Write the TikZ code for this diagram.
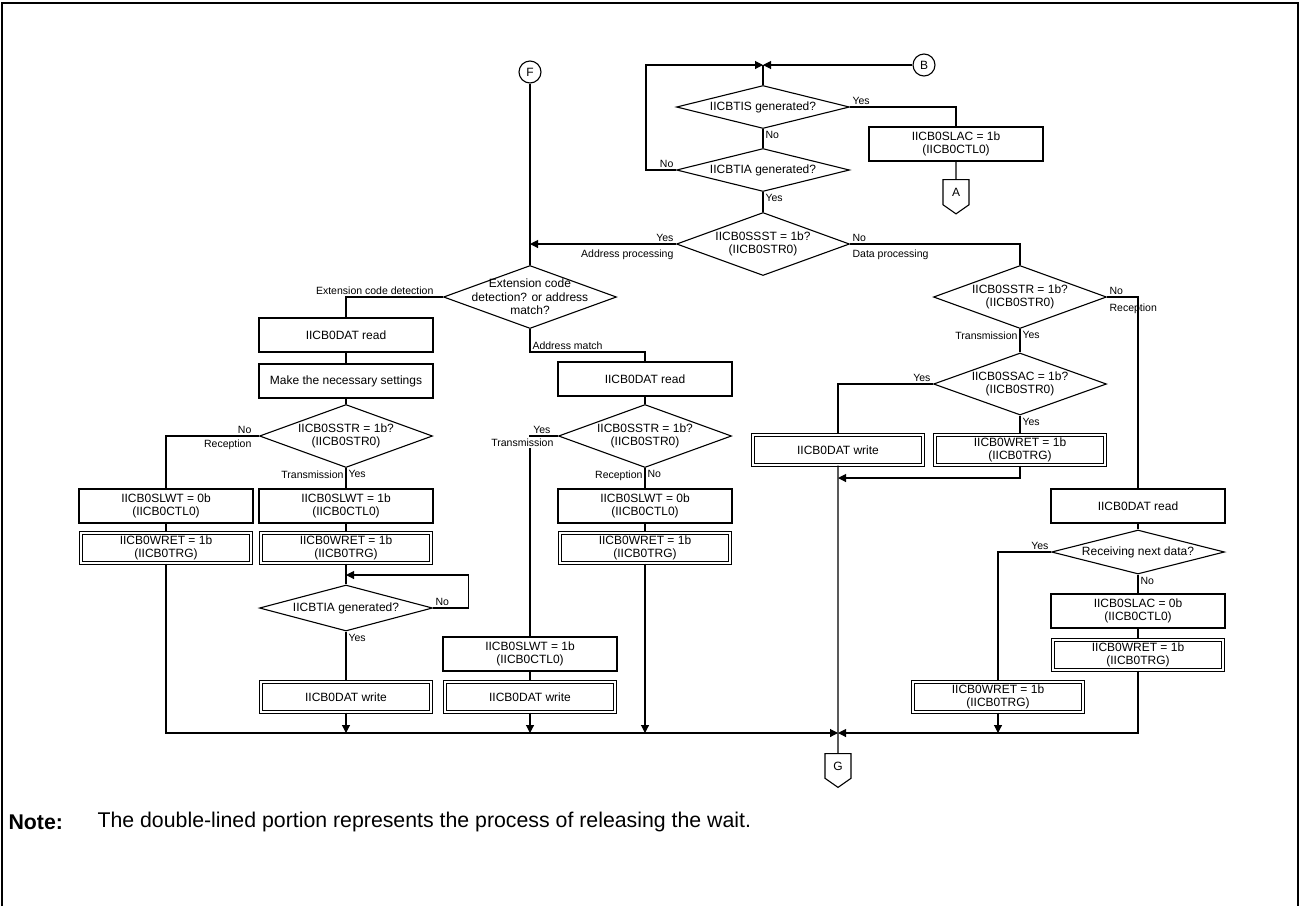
\documentclass[tikz,border=0pt]{standalone}
\usepackage{fontspec}
\setmainfont{Liberation Sans}
\usetikzlibrary{arrows.meta,positioning,shapes.geometric,shapes.symbols}
\newcommand{\boxfont}{\fontsize{12}{13.5}\selectfont}
\newcommand{\dboxfont}{\fontsize{12}{12.8}\selectfont}
\newcommand{\lblfont}{\fontsize{10.5}{12}\selectfont}
\newcommand{\notefont}{\fontsize{21.3}{24}\selectfont}

\begin{document}
\begin{tikzpicture}[x=1pt,y=-1pt,line width=1.1pt,
  box/.style={draw,rectangle,align=center,minimum width=174pt,minimum height=34pt,inner sep=1pt,font=\boxfont},
  dbox/.style={box,double,double distance=2.4pt,minimum width=170pt,minimum height=30pt,font=\dboxfont},
  dia/.style={draw,diamond,minimum width=173pt,minimum height=63pt,inner sep=0pt,label={[align=center,font=\boxfont]center:#1}},
  conn/.style={draw,circle,minimum size=22pt,inner sep=0pt,font=\boxfont},
  offpage/.style={draw,signal,signal to=south,signal pointer angle=110,minimum width=26pt,minimum height=28pt,inner sep=0pt,font=\boxfont},
  lbl/.style={inner sep=2pt,font=\lblfont},
  arr/.style={-{Triangle[length=8pt,width=8pt]}}]
\useasboundingbox (0,0) rectangle (1301,906);
\draw[line width=2.5pt] (2,906) -- (2,3) -- (1298,3) -- (1298,906);

% top part
\node[conn] (F) at (530,72) {F};
\node[conn] (B) at (924,65) {B};
\coordinate (mtop) at (763,65);
\node[dia={IICBTIS generated?},minimum height=43pt] (tis) at (763,107) {};
\node[dia={IICBTIA generated?},minimum height=43pt] (tia) at (763,170) {};
\node[box] (slac1) at (956,144) {IICB0SLAC = 1b\\(IICB0CTL0)};
\node[offpage,anchor=north] (A) at (956,179) {A};
\node[dia={IICB0SSST = 1b?\\(IICB0STR0)}] (ssst) at (763,244) {};
\node[dia={Extension code\\detection? or address\\match?}] (ext) at (530,297) {};

% address processing, extension code
\node[box] (rd1) at (346,335) {IICB0DAT read};
\node[box] (set) at (346,381) {Make the necessary settings};
\node[dia={IICB0SSTR = 1b?\\(IICB0STR0)}] (str1) at (346,436) {};
\node[box] (slwt0a) at (166,506) {IICB0SLWT = 0b\\(IICB0CTL0)};
\node[dbox] (wret1) at (166,548) {IICB0WRET = 1b\\(IICB0TRG)};
\node[box] (slwt1a) at (346,506) {IICB0SLWT = 1b\\(IICB0CTL0)};
\node[dbox] (wret2) at (346,548) {IICB0WRET = 1b\\(IICB0TRG)};
\coordinate (mloop) at (346,575);
\node[dia={IICBTIA generated?},minimum height=46pt] (tia2) at (346,608) {};
\node[dbox] (wr1) at (346,697) {IICB0DAT write};

% address match
\coordinate (am) at (530,352);
\node[box] (rd2) at (645,379) {IICB0DAT read};
\node[dia={IICB0SSTR = 1b?\\(IICB0STR0)}] (str2) at (645,436) {};
\node[box] (slwt0b) at (645,506) {IICB0SLWT = 0b\\(IICB0CTL0)};
\node[dbox] (wret3) at (645,548) {IICB0WRET = 1b\\(IICB0TRG)};
\node[box] (slwt1b) at (530,654) {IICB0SLWT = 1b\\(IICB0CTL0)};
\node[dbox] (wr2) at (530,697) {IICB0DAT write};

% data processing
\node[dia={IICB0SSTR = 1b?\\(IICB0STR0)}] (str3) at (1020,297) {};
\node[dia={IICB0SSAC = 1b?\\(IICB0STR0)},minimum height=62pt] (ssac) at (1020,384) {};
\node[dbox] (wr3) at (838,450) {IICB0DAT write};
\node[dbox] (wret4) at (1020,450) {IICB0WRET = 1b\\(IICB0TRG)};
\coordinate (jr) at (838,478);
\node[box] (rd3) at (1138,506) {IICB0DAT read};
\node[dia={Receiving next data?},minimum height=44pt] (rnd) at (1138,552) {};
\node[box] (slac0) at (1138,611) {IICB0SLAC = 0b\\(IICB0CTL0)};
\node[dbox] (wret5) at (1138,655) {IICB0WRET = 1b\\(IICB0TRG)};
\node[dbox] (wret6) at (998,697) {IICB0WRET = 1b\\(IICB0TRG)};
\coordinate (jn) at (838,733);
\node[offpage,anchor=north] (G) at (838,753) {G};

% connectors
\draw[arr] (B) -- (mtop);
\draw[arr] (tia.west) -- ++(-30,0) |- (mtop);
\draw (mtop) -- (tis);
\draw (tis) -- (tia);
\draw (tia) -- (ssst);
\draw (tis.east) -| (slac1);
\draw (slac1) -- (A);
\draw (F) -- (ext);
\draw[arr] (ssst.west) -- (ssst.west -| F);
\draw (ssst.east) -| (str3);
\draw (ext.west) -| (rd1);
\draw (rd1) -- (set);
\draw (set) -- (str1);
\draw (str1.west) -| (slwt0a);
\draw (slwt0a) -- (wret1);
\draw (str1) -- (slwt1a);
\draw (slwt1a) -- (wret2);
\draw (wret2) -- (tia2);
\draw[arr] (tia2.east) -- ++(35,0) |- (mloop);
\draw (tia2) -- (wr1);
\draw (ext) -- (am) -| (rd2);
\draw (rd2) -- (str2);
\draw (str2.west) -| (slwt1b);
\draw (slwt1b) -- (wr2);
\draw (str2) -- (slwt0b);
\draw (slwt0b) -- (wret3);
\draw (str3) -- (ssac);
\draw (str3.east) -| (rd3);
\draw (ssac.west) -| (wr3);
\draw (ssac) -- (wret4);
\draw[arr] (wret4) |- (jr);
\draw (rd3) -- (rnd);
\draw (rnd) -- (slac0);
\draw (slac0) -- (wret5);
\draw (rnd.west) -| (wret6);
\draw (wr3) -- (G);
\draw[arr] (wret1) |- (jn);
\draw[arr] (wr1) -- (wr1 |- jn);
\draw[arr] (wr2) -- (wr2 |- jn);
\draw[arr] (wret3) -- (wret3 |- jn);
\draw[arr] (wret6) -- (wret6 |- jn);
\draw[arr] (wret5) |- (jn);

% branch labels
\node[lbl,anchor=south west] at (tis.east) {Yes};
\node[lbl,anchor=north west] at (tis.south) {No};
\node[lbl,anchor=south east] at (tia.west) {No};
\node[lbl,anchor=north west] at (tia.south) {Yes};
\node[lbl,anchor=south east] at (ssst.west) {Yes};
\node[lbl,anchor=north east,yshift=-3pt] at (ssst.west) {Address processing};
\node[lbl,anchor=south west] at (ssst.east) {No};
\node[lbl,anchor=north west,yshift=-3pt] at (ssst.east) {Data processing};
\node[lbl,anchor=south east,xshift=-7pt] at (ext.west) {Extension code detection};
\node[lbl,anchor=south west] at (am) {Address match};
\node[lbl,anchor=south east,xshift=-5pt] at (str1.west) {No};
\node[lbl,anchor=north east,xshift=-5pt,yshift=-1pt] at (str1.west) {Reception};
\node[lbl,anchor=north east] at (str1.south) {Transmission};
\node[lbl,anchor=north west] at (str1.south) {Yes};
\node[lbl,anchor=south west] at (tia2.east) {No};
\node[lbl,anchor=north west] at (tia2.south) {Yes};
\node[lbl,anchor=south east,xshift=-5pt] at (str2.west) {Yes};
\node[lbl,anchor=north east,xshift=-2pt,fill=white] at (str2.west) {Transmission};
\node[lbl,anchor=north east] at (str2.south) {Reception};
\node[lbl,anchor=north west] at (str2.south) {No};
\node[lbl,anchor=south west] at (str3.east) {No};
\node[lbl,anchor=north west,yshift=-4pt] at (str3.east) {Reception};
\node[lbl,anchor=north east] at (str3.south) {Transmission};
\node[lbl,anchor=north west] at (str3.south) {Yes};
\node[lbl,anchor=south east] at (ssac.west) {Yes};
\node[lbl,anchor=north west] at (ssac.south) {Yes};
\node[lbl,anchor=south east] at (rnd.west) {Yes};
\node[lbl,anchor=north west] at (rnd.south) {No};

% note
\node[anchor=west,inner sep=0pt,font=\notefont\bfseries] (note) at (8,822) {Note:};
\node[anchor=west,inner sep=0pt,font=\notefont] (notetxt) at (97,822) {The double-lined portion represents the process of releasing the wait.};
\end{tikzpicture}
\end{document}
